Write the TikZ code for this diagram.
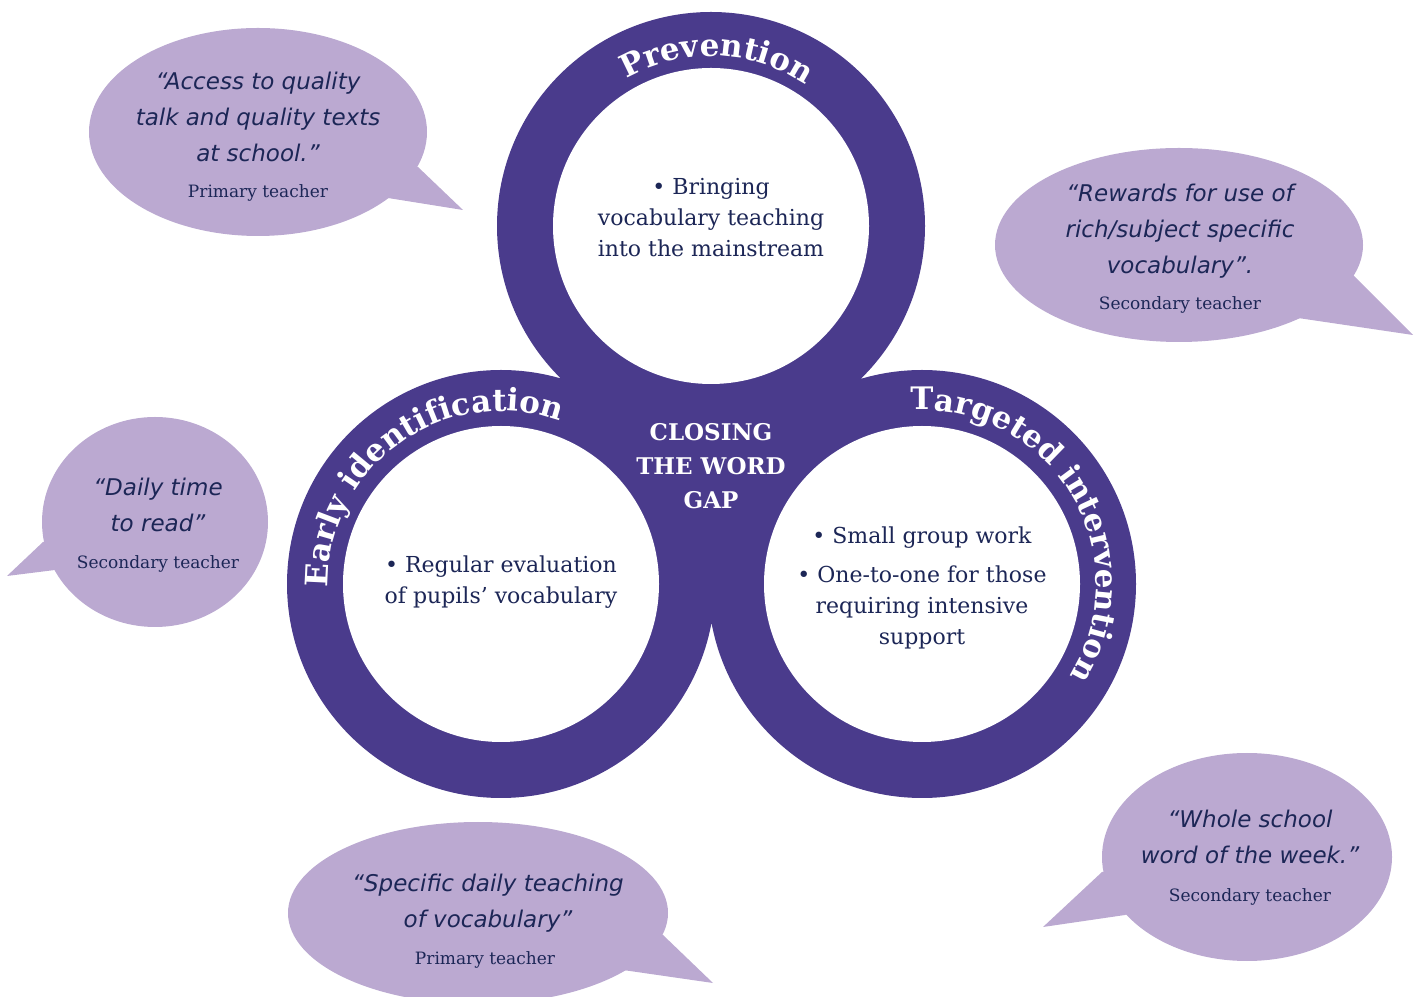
\documentclass[tikz,border=0pt]{standalone}
\usepackage{fontspec}
\setmainfont{DejaVu Serif}
\newfontfamily\quotefont{DejaVu Sans}
\usetikzlibrary{calc,decorations.text}

\definecolor{ringpurple}{RGB}{74,59,140}
\definecolor{bubblelilac}{RGB}{187,169,209}
\definecolor{inknavy}{RGB}{28,38,86}
\newcommand\arcfont{\bfseries\fontsize{31}{31}\selectfont}

\begin{document}
\begin{tikzpicture}[x=1pt,y=1pt,
	bubble/.style={fill=bubblelilac},
	body/.style={text=inknavy, align=center, font=\fontsize{22}{31}\selectfont},
	title/.style={text=white, align=center, font=\bfseries\fontsize{23}{34}\selectfont},
	quote/.style={text=inknavy, align=center, font=\quotefont\itshape\fontsize{23}{36}\selectfont},
	teacher/.style={text=inknavy, font=\fontsize{17}{20}\selectfont},
	ringtext/.style={decorate, decoration={text along path, text align=center, text color=white, text={#1}}}]

		\useasboundingbox (0,0) rectangle (1421,996);
		\clip (0,0) rectangle (1421,996);

		% speech bubbles
		\fill[bubble] (258,864) ellipse [x radius=169, y radius=104];
		\fill[bubble] (258,864) -- (418,829) -- (463,786) -- (388,798) -- cycle;
		\fill[bubble] (1179,751) ellipse [x radius=184, y radius=97];
		\fill[bubble] (1179,751) -- (1353,721) -- (1413,661) -- (1298,678) -- cycle;
		\fill[bubble] (155,474) ellipse [x radius=113, y radius=105];
		\fill[bubble] (155,474) -- (43,454) -- (7,420) -- (55,426) -- cycle;
		\fill[bubble] (478,83) ellipse [x radius=190, y radius=91];
		\fill[bubble] (478,83) -- (663,61) -- (713,13) -- (623,26) -- cycle;
		\fill[bubble] (1247,139) ellipse [x radius=145, y radius=104];
		\fill[bubble] (1247,139) -- (1102,124) -- (1043,69) -- (1125,81) -- cycle;

		% the three rings
		\coordinate (T) at (711,770);
		\coordinate (L) at (501,412);
		\coordinate (R) at (922,412);

		\fill[ringpurple] (T) -- (L) -- (R) -- cycle;
		\fill[ringpurple] (T) circle (214) (L) circle (214) (R) circle (214);
		\fill[white] (T) circle (158) (L) circle (158) (R) circle (158);

		\path[ringtext={|\arcfont|Prevention}] ($(T)+(148:170)$) arc[start angle=148, end angle=28, radius=170];
		\path[ringtext={|\arcfont|Early identification}] ($(L)+(200:173)$) arc[start angle=200, end angle=51, radius=173];
		\path[ringtext={|\arcfont|Targeted intervention}] ($(R)+(110:174)$) arc[start angle=110, end angle=-48, radius=174];

		\node[body] (prevtext) at (711,778) {• Bringing\\vocabulary teaching\\into the mainstream};
		\node[body] (earlytext) at (501,414) {• Regular evaluation\\of pupils’ vocabulary};
		\node[body] (targettext) at (922,408) {• Small group work\\[8pt]• One-to-one for those\\requiring intensive\\support};
		\node[title] (gap) at (711,530) {CLOSING\\THE WORD\\GAP};

		% quotes
		\node[quote] (q1) at (258,879) {“Access to quality\\talk and quality texts\\at school.”};
		\node[teacher] (t1) at (258,803) {Primary teacher};
		\node[quote] (q2) at (1180,765) {“Rewards for use of\\rich/subject specific\\vocabulary”.};
		\node[teacher] (t2) at (1180,691) {Secondary teacher};
		\node[quote] (q3) at (158,491) {“Daily time\\to read”};
		\node[teacher] (t3) at (158,432) {Secondary teacher};
		\node[quote] (q4) at (488,93) {“Specific daily teaching\\of vocabulary”};
		\node[teacher] (t4) at (485,36) {Primary teacher};
		\node[quote] (q5) at (1250,159) {“Whole school\\word of the week.”};
		\node[teacher] (t5) at (1250,99) {Secondary teacher};

\end{tikzpicture}
\end{document}
